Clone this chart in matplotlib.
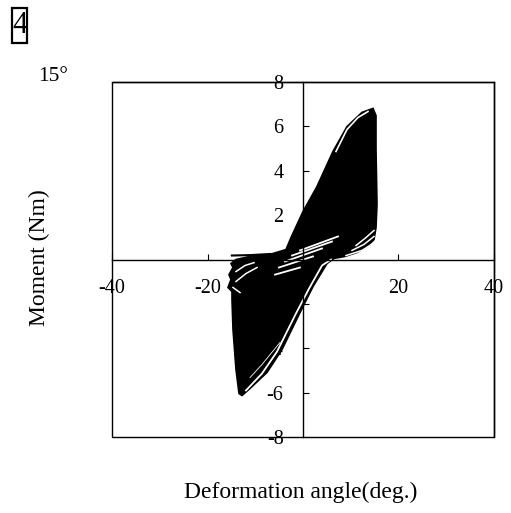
import matplotlib
matplotlib.use('Agg')
import matplotlib.pyplot as plt
from matplotlib.patches import Rectangle

plt.rcParams['font.family'] = ['Liberation Serif', 'DejaVu Serif']
plt.rcParams['axes.unicode_minus'] = False

# outer envelope of all the hysteresis loops (deg, Nm)
env_x = [14.66, 15.29, 15.29, 15.50, 15.29, 14.87, 13.19, 11.31, 8.80, 6.49,
         5.03, 2.09, -0.63, -4.40, -7.54, -11.10, -12.77, -13.40, -14.03, -14.66,
         -14.87, -14.87, -15.71, -15.08, -15.50, -14.66, -15.08, -14.03, -11.10, -6.91,
         -3.56, -2.51, 0.0, 2.93, 6.28, 9.21, 12.35]
env_y = [6.81, 6.49, 4.96, 2.48, 1.44, 0.90, 0.54, 0.32, 0.14, 0.05,
         -0.18, -1.22, -2.39, -4.06, -5.09, -5.81, -6.13, -6.04, -4.96, -3.15,
         -1.80, -1.44, -1.26, -0.90, -0.68, -0.36, -0.18, 0.0, 0.14, 0.23,
         0.45, 0.99, 2.16, 3.29, 4.87, 5.99, 6.63]

# thin tail on the left along zero moment
tail_x = [-14.9, -11.0, -6.9]
tail_y = [0.18, 0.20, 0.25]

# white gaps between the outer loop and the rest
gap_lr_x = [-11.94, -8.59, -5.44, -1.47, 1.26, 3.98, 5.86]
gap_lr_y = [-5.90, -5.14, -4.15, -2.43, -1.31, -0.27, 0.0]
gap_in_x = [-11.10, -8.59, -4.82]
gap_in_y = [-5.32, -4.73, -3.74]
gap_pk_x = [6.91, 9.21, 11.52, 13.61]
gap_pk_y = [4.87, 5.86, 6.40, 6.67]

# white streaks in the middle (pinched part of the loops)
streaks = [
    ([-5.86, -0.63], [-0.68, -0.36]),
    ([-5.03, 2.09], [-0.36, 0.14]),
    ([-3.77, 3.98], [-0.09, 0.50]),
    ([-2.30, 6.07], [0.18, 0.81]),
    ([-0.63, 7.33], [0.41, 1.04]),
]
# white gaps in the small loops at both ends
flares = [
    ([11.10, 13.19, 14.87], [0.63, 0.99, 1.31]),
    ([10.26, 12.77, 14.87], [0.41, 0.68, 1.04]),
    ([9.00, 12.35, 14.66], [0.18, 0.41, 0.72]),
    ([-14.03, -12.15, -10.26], [-0.54, -0.27, -0.14]),
    ([-14.03, -11.94, -9.63], [-0.99, -0.63, -0.36]),
    ([-14.66, -13.19], [-1.26, -1.49]),
]

xticks = [-40, -20, 20, 40]
yticks = [-8, -6, -4, -2, 2, 4, 6, 8]

fig = plt.figure(figsize=(5.11, 5.13), dpi=100)
ax = fig.add_axes([0.2192, 0.1481, 0.7475, 0.692])

ax.fill(env_x, env_y, color='black', lw=1.2, zorder=3)
ax.plot(tail_x, tail_y, color='black', lw=1.5, zorder=3)
ax.plot(gap_lr_x, gap_lr_y, color='white', lw=1.3, zorder=4)
ax.plot(gap_in_x, gap_in_y, color='white', lw=0.6, zorder=4)
ax.plot(gap_pk_x, gap_pk_y, color='white', lw=1.2, zorder=4)
for sx, sy in streaks:
    ax.plot(sx, sy, color='white', lw=1.3, zorder=4)
for fx, fy in flares:
    ax.plot(fx, fy, color='white', lw=1.1, zorder=4)

ax.set_xlim(-40, 40)
ax.set_ylim(-8, 8)
ax.spines['left'].set_position(('data', 0))
ax.spines['bottom'].set_position(('data', 0))
for s in ax.spines.values():
    s.set_linewidth(1.0)
    s.set_zorder(5)
ax.add_patch(Rectangle((0, 0), 1, 1, transform=ax.transAxes, fill=False,
                       lw=1.0, ec='black', zorder=5, clip_on=False))

ax.set_xticks(xticks)
ax.set_yticks(yticks)
ax.tick_params(direction='in', length=4.5, width=0.8, labelsize=14.5, pad=14)
ax.xaxis.set_zorder(1.5)
ax.yaxis.set_zorder(1.5)

fig.text(0.589, 0.041, 'Deformation angle(deg.)', fontsize=17, ha='center', va='center')
fig.text(0.078, 0.497, 'Moment (Nm)', fontsize=17, ha='center', va='center', rotation=90)
fig.text(0.074, 0.851, '15°', fontsize=15.5, ha='left', va='center')

fig.text(0.0391, 0.9503, '4', fontsize=22, ha='center', va='center')
fig.add_artist(Rectangle((0.0241, 0.9168), 0.0294, 0.067, transform=fig.transFigure,
                         fill=False, lw=1.6, ec='black'))

fig.savefig('out.png', dpi=100)
